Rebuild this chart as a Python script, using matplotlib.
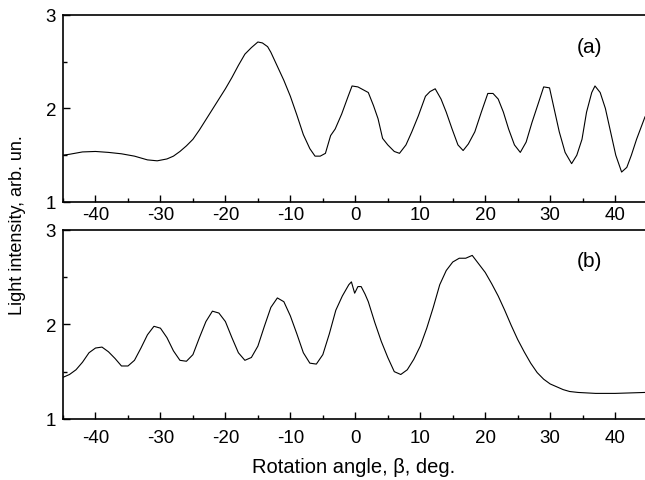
import matplotlib as mpl
mpl.use('Agg')
import matplotlib.pyplot as plt
from matplotlib.ticker import MultipleLocator

plt.rcParams['font.family'] = ['Liberation Sans', 'DejaVu Sans']
plt.rcParams['axes.unicode_minus'] = False

# panel (a)
xa = [-45, -44, -42, -40, -38, -36, -34, -32, -30.5, -29, -28, -27, -26, -25, -24, -23, -22, -21, -20,
      -19, -18, -17, -16, -15, -14.3, -13.5, -13, -12, -11, -10, -9, -8, -7, -6.2, -5.4,
      -4.6, -3.8, -3.1, -2.1, -1.1, -0.5, 0.4, 1.2, 2.0, 2.8, 3.5, 4.2, 5.0, 6.0, 6.8, 7.8, 8.7,
      9.7, 10.8, 11.5, 12.3, 13.2, 14.0, 14.9, 15.8, 16.6, 17.4, 18.4, 19.4, 20.4, 21.2, 22.0, 22.8,
      23.6, 24.5, 25.4, 26.3, 27.2, 28.2, 29.0, 29.9, 30.6, 31.4, 32.3, 33.3, 34.1, 34.9, 35.6, 36.4,
      36.9, 37.7, 38.5, 39.3, 40.1, 41.0, 41.8, 42.5, 43.3, 44.6]
ya = [1.50, 1.51, 1.535, 1.54, 1.53, 1.515, 1.49, 1.45, 1.44, 1.46, 1.49, 1.54, 1.60, 1.67, 1.77,
      1.88, 1.99, 2.10, 2.21, 2.33, 2.46, 2.58, 2.65, 2.71, 2.70, 2.66, 2.60, 2.45, 2.30, 2.13, 1.93,
      1.72, 1.57, 1.49, 1.49,
      1.52, 1.71, 1.78, 1.94, 2.13, 2.24, 2.23, 2.20, 2.17, 2.03, 1.89, 1.68, 1.61, 1.54, 1.52, 1.61,
      1.75, 1.92, 2.13, 2.18, 2.21, 2.10, 1.96, 1.78, 1.61, 1.55, 1.62, 1.75, 1.96, 2.16, 2.16, 2.10,
      1.96, 1.78, 1.61, 1.53, 1.64, 1.85, 2.06, 2.23, 2.22, 2.00, 1.75, 1.53, 1.41, 1.50, 1.67, 1.96,
      2.17, 2.24, 2.17, 2.00, 1.75, 1.50, 1.32, 1.37, 1.50, 1.67, 1.91]

# panel (b)
xb = [-45, -44, -43, -42, -41, -40, -39, -38, -37, -36, -35, -34, -33, -32, -31, -30, -29, -28, -27,
      -26, -25, -24, -23, -22, -21, -20, -19, -18, -17, -16, -15, -14, -13, -12, -11, -10, -9, -8,
      -7, -6, -5, -4, -3, -2, -1, -0.6, -0.1, 0.4, 0.9, 1.5, 2.0, 3.0, 4.0, 5.0, 6.0, 7.0, 8.0, 9.0,
      10.0, 11.0, 12.0, 13.0, 14.0, 15.0, 16.0, 17.0, 18.0, 19.0, 20.0, 21.0, 22.0, 23.0, 24.0, 25.0,
      26.0, 27.0, 28.0, 29.0, 30.0, 31.0, 32.0, 33.0, 34.3, 37, 40, 44.6]
yb = [1.44, 1.47, 1.52, 1.60, 1.70, 1.75, 1.76, 1.71, 1.64, 1.56, 1.56, 1.62, 1.75, 1.89, 1.98,
      1.96, 1.86, 1.72, 1.62, 1.61, 1.68, 1.86, 2.03, 2.14, 2.12, 2.03, 1.86, 1.70, 1.62, 1.65, 1.77,
      1.98, 2.18, 2.28, 2.24, 2.09, 1.90, 1.70, 1.59, 1.58, 1.68, 1.90, 2.15, 2.30, 2.42, 2.45, 2.33,
      2.40, 2.40, 2.32, 2.24, 2.02, 1.82, 1.65, 1.50, 1.47, 1.52, 1.63, 1.77, 1.96, 2.18, 2.42, 2.57,
      2.66, 2.70, 2.70, 2.73, 2.64, 2.55, 2.43, 2.30, 2.15, 1.99, 1.84, 1.71, 1.59, 1.49, 1.42, 1.37,
      1.34, 1.31, 1.29, 1.28, 1.27, 1.27, 1.28]

fig = plt.figure(figsize=(6.45, 4.81), dpi=100)
ax1 = fig.add_axes([0.0977, 0.578, 0.9023, 0.389])
ax2 = fig.add_axes([0.0977, 0.127, 0.9023, 0.393])

for ax, x, y, lab, pad in [(ax1, xa, ya, '(a)', 3), (ax2, xb, yb, '(b)', 7)]:
    ax.plot(x, y, color='black', lw=0.8)
    ax.set_xlim(-45, 44.6)
    ax.set_ylim(1, 3)
    ax.xaxis.set_major_locator(MultipleLocator(10))
    ax.xaxis.set_minor_locator(MultipleLocator(5))
    ax.yaxis.set_major_locator(MultipleLocator(1))
    ax.yaxis.set_minor_locator(MultipleLocator(0.5))
    ax.tick_params(which='both', direction='in', labelsize=13.5, width=1)
    ax.tick_params(which='major', length=5)
    ax.tick_params(which='minor', length=3)
    ax.tick_params(axis='x', pad=pad)
    ax.tick_params(axis='y', pad=5)
    ax.spines['right'].set_visible(False)
    for s in ['left', 'bottom', 'top']:
        ax.spines[s].set_linewidth(1.2)
    ax.text(0.905, 0.83 if lab == '(a)' else 0.84, lab, transform=ax.transAxes,
            fontsize=15, ha='center', va='center')

fig.text(0.027, 0.532, 'Light intensity, arb. un.', rotation=90, fontsize=13,
         ha='center', va='center')
ax2.set_xlabel('Rotation angle, \u03b2, deg.', fontsize=14.5, labelpad=8)

plt.savefig('out.png', dpi=100)
